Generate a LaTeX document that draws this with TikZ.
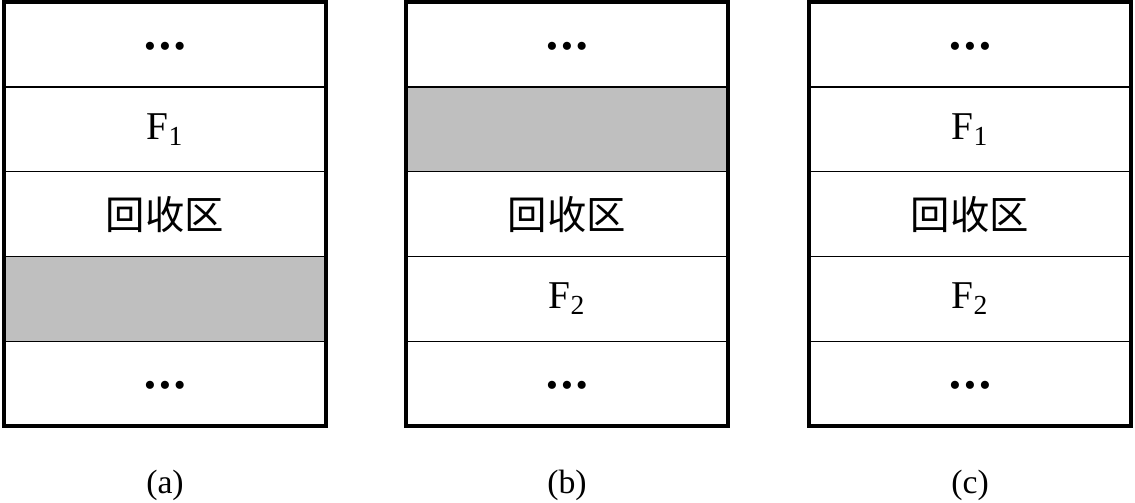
\documentclass[tikz,border=0pt]{standalone}
\usepackage{fontspec}
\setmainfont{Liberation Serif}
\newfontfamily\cjk{Noto Sans CJK SC}
\usetikzlibrary{positioning}
\newcommand{\celldots}{\raisebox{-9pt}[0pt][0pt]{\fontsize{24}{24}\selectfont\textbullet\hspace{2.2pt}\textbullet\hspace{2.2pt}\textbullet}}

\begin{document}
\begin{tikzpicture}[x=0.025cm,y=-0.025cm,
    cell/.style={draw, line width=1pt, outer sep=0pt, inner sep=0pt,
      minimum width=8.05cm, minimum height=2.12cm,
      font=\fontsize{28}{30}\selectfont},
    freed/.style={cell, fill=black!25},
    frame/.style={draw, line width=2.6pt},
    caption/.style={font=\fontsize{24}{26}\selectfont}]
  \useasboundingbox (0,0) rectangle (1135,503);

  % column (a)
  \node[cell] (a1) at (165,44.5) {\celldots};
  \node[cell, below=0pt of a1] (a2) {F\textsubscript{1}};
  \node[cell, below=0pt of a2] (a3) {\cjk 回收区};
  \node[freed, below=0pt of a3] (a4) {};
  \node[cell, below=0pt of a4] (a5) {\celldots};
  \draw[frame] (a1.north west) rectangle (a5.south east);
  \node[caption] (la) at (165,485) {(a)};

  % column (b)
  \node[cell] (b1) at (567,44.5) {\celldots};
  \node[freed, below=0pt of b1] (b2) {};
  \node[cell, below=0pt of b2] (b3) {\cjk 回收区};
  \node[cell, below=0pt of b3] (b4) {F\textsubscript{2}};
  \node[cell, below=0pt of b4] (b5) {\celldots};
  \draw[frame] (b1.north west) rectangle (b5.south east);
  \node[caption] (lb) at (567,485) {(b)};

  % column (c)
  \node[cell] (c1) at (970,44.5) {\celldots};
  \node[cell, below=0pt of c1] (c2) {F\textsubscript{1}};
  \node[cell, below=0pt of c2] (c3) {\cjk 回收区};
  \node[cell, below=0pt of c3] (c4) {F\textsubscript{2}};
  \node[cell, below=0pt of c4] (c5) {\celldots};
  \draw[frame] (c1.north west) rectangle (c5.south east);
  \node[caption] (lc) at (970,485) {(c)};
\end{tikzpicture}
\end{document}
